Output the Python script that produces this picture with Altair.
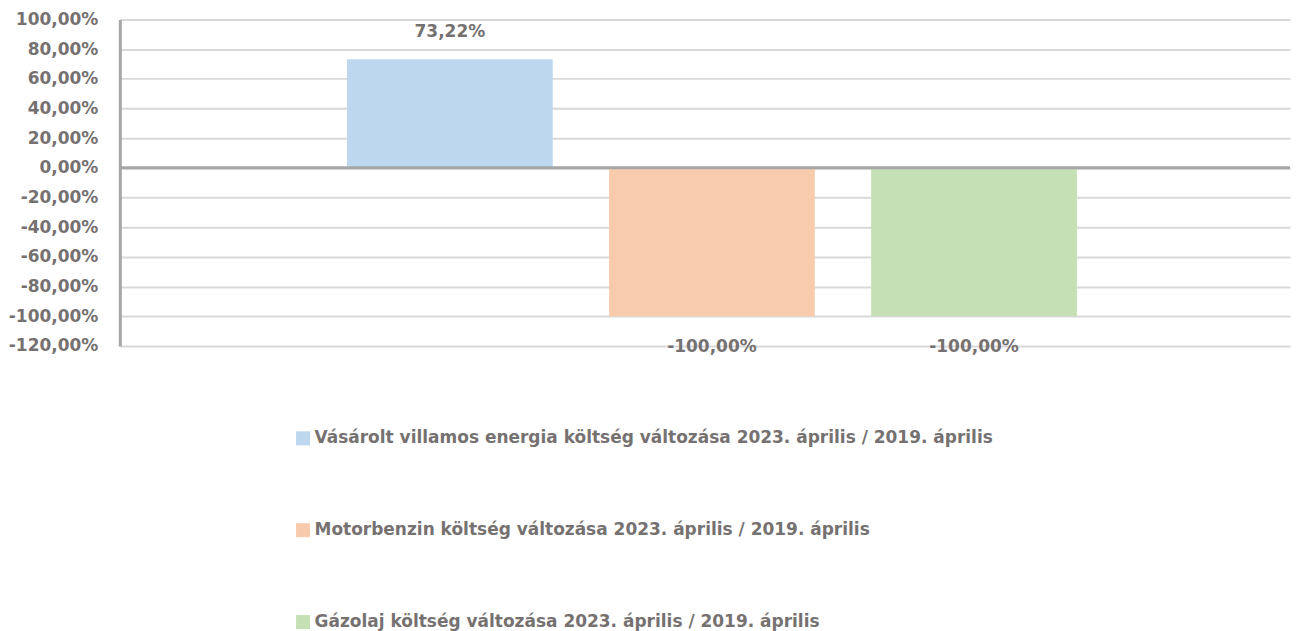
import altair as alt
import pandas as pd

series = [
    "Vásárolt villamos energia költség  változása 2023. április / 2019. április",
    "Motorbenzin költség  változása 2023. április / 2019. április",
    "Gázolaj költség  változása 2023. április / 2019. április",
]
values = [73.22, -100.0, -100.0]
colors = ["#BDD7EE", "#F8CBAD", "#C5E0B4"]
y_ticks = [-120, -100, -80, -60, -40, -20, 0, 20, 40, 60, 80, 100]

df = pd.DataFrame({"series": series, "value": values})
df["label"] = [("-" if v < 0 else "") + f"{abs(v):.2f}".replace(".", ",") + "%" for v in values]

FONT = "DejaVu Sans"
TEXT = "#767171"
FS = 17

label_expr = "(datum.value < 0 ? '-' : '') + replace(format(abs(datum.value), '.2f'), '.', ',') + '%'"

x = alt.X(
    "series:N",
    sort=series,
    axis=None,
    scale=alt.Scale(paddingInner=0.215, paddingOuter=0.84, align=0.516),
)
y_scale = alt.Scale(domain=[-120, 100], nice=False, zero=False)
y_axis = alt.Axis(
    values=y_ticks,
    labelExpr=label_expr,
    labelOverlap=False,
    title=None,
    ticks=False,
    domainColor="#a6a6a6",
    domainWidth=3,
    gridColor="#d9d9d9",
    gridWidth=2,
    labelFont=FONT,
    labelFontWeight="bold",
    labelFontSize=FS,
    labelColor=TEXT,
    labelPadding=22,
)
y = alt.Y("value:Q", scale=y_scale, axis=y_axis)

bars = alt.Chart(df).mark_bar().encode(
    x=x,
    y=y,
    color=alt.Color(
        "series:N",
        sort=series,
        scale=alt.Scale(domain=series, range=colors),
        legend=alt.Legend(
            orient="none",
            legendX=175,
            legendY=411,
            direction="vertical",
            title=None,
            symbolType="square",
            symbolSize=196,
            symbolStrokeWidth=0,
            symbolOpacity=1,
            labelFont=FONT,
            labelFontSize=FS,
            labelFontWeight="bold",
            labelColor=TEXT,
            labelLimit=0,
            labelOffset=3,
            rowPadding=74,
            padding=0,
        ),
    ),
)

text_style = dict(font=FONT, fontSize=FS, fontWeight="bold", color=TEXT)
pos_labels = (
    alt.Chart(df)
    .transform_filter("datum.value >= 0")
    .mark_text(dy=-27, **text_style)
    .encode(x=x, y=y, text="label:N")
)
neg_labels = (
    alt.Chart(df)
    .transform_filter("datum.value < 0")
    .mark_text(dy=31, **text_style)
    .encode(x=x, y=y, text="label:N")
)
zero = (
    alt.Chart(pd.DataFrame({"value": [0]}))
    .mark_rule(color="#a6a6a6", strokeWidth=3)
    .encode(y=y)
)

chart = (
    alt.layer(bars, pos_labels, neg_labels, zero)
    .properties(width=1172, height=327, padding={"top": 2, "left": 0, "right": 0, "bottom": 0})
    .configure_view(stroke=None)
)

chart.save("out.html", embed_options={"renderer": "svg", "actions": False})
